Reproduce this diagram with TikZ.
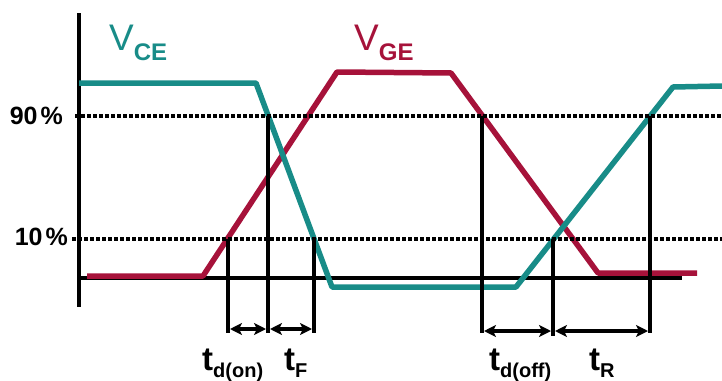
\documentclass[tikz,border=0pt]{standalone}
\usepackage{fontspec}
\setmainfont{Liberation Sans}
\usetikzlibrary{arrows.meta}
\definecolor{vcecolor}{RGB}{24,140,136}
\definecolor{vgecolor}{RGB}{166,18,58}
\newcommand{\tname}[1]{\textbf{t}\raisebox{-7pt}{\fontsize{20}{20}\selectfont\bfseries #1}}
\newcommand{\vname}[1]{V\raisebox{-10pt}{\fontsize{24}{24}\selectfont\bfseries #1}}

\begin{document}
\begin{tikzpicture}[x=1pt, y=-1pt,
        axis/.style={line width=4pt},
        level/.style={line width=3.5pt, dash pattern=on 3.5pt off 2.5pt},
        wave/.style={line width=5.5pt, line join=round},
        marker/.style={line width=4pt},
        span/.style={{Stealth[length=12pt, width=12pt, inset=3pt]}-{Stealth[length=12pt, width=12pt, inset=3pt]}, line width=3.5pt},
        pct/.style={font=\fontsize{25}{25}\selectfont\bfseries, anchor=base east, inner sep=0pt},
        tlabel/.style={font=\fontsize{33}{33}\selectfont, anchor=base west, inner sep=0pt},
        vlabel/.style={font=\fontsize{37}{37}\selectfont, anchor=base west, inner sep=0pt}
    ]
        \useasboundingbox (0,0) rectangle (722,380);
        \coordinate (ytop) at (79,13);
        \coordinate (ybot) at (79,307);
        \coordinate (orig) at (79,278);
        \coordinate (xend) at (682,278);
        \coordinate (hi0) at (75,116);
        \coordinate (hi1) at (722,116);
        \coordinate (lo0) at (72,239);
        \coordinate (lo1) at (722,239);
        \draw[axis] (ytop) -- (ybot);
        \draw[axis] (orig) -- (xend);
        \draw[wave, vgecolor] (87,276) -- (203,276) -- (337,72) -- (451,73) -- (598,273) -- (697,273);
        \draw[wave, vcecolor] (79,83) -- (256,83) -- (332,287) -- (516,287) -- (673,87) -- (722,86);
        \draw[level] (hi0) -- (hi1);
        \draw[level] (lo0) -- (lo1);
        \node[pct] (p90) at (63,124) {90\kern3pt\%};
        \node[pct] (p10) at (68,245) {10\kern3pt\%};
        \node[vlabel, text=vcecolor] (vce) at (109,50) {\vname{CE}};
        \node[vlabel, text=vgecolor] (vge) at (354,50) {\vname{GE}};
        \coordinate (m1a) at (228,239);  \coordinate (m1b) at (228,333);
        \coordinate (m2a) at (268,116);  \coordinate (m2b) at (268,333);
        \coordinate (m3a) at (314,239);  \coordinate (m3b) at (314,333);
        \coordinate (m4a) at (482,116);  \coordinate (m4b) at (482,333);
        \coordinate (m5a) at (553,239);  \coordinate (m5b) at (553,336);
        \coordinate (m6a) at (650,116);  \coordinate (m6b) at (650,333);
        \draw[marker] (m1a) -- (m1b);
        \draw[marker] (m2a) -- (m2b);
        \draw[marker] (m3a) -- (m3b);
        \draw[marker] (m4a) -- (m4b);
        \draw[marker] (m5a) -- (m5b);
        \draw[marker] (m6a) -- (m6b);
        \coordinate (s1) at (230,329);  \coordinate (s2) at (266,329);
        \coordinate (s3) at (270,329);  \coordinate (s4) at (312,329);
        \coordinate (s5) at (484,331);  \coordinate (s6) at (551,331);
        \coordinate (s7) at (555,331);  \coordinate (s8) at (648,331);
        \draw[span] (s1) -- (s2);
        \draw[span] (s3) -- (s4);
        \draw[span] (s5) -- (s6);
        \draw[span] (s7) -- (s8);
        \node[tlabel] (tdon) at (202,370) {\tname{d(on)}};
        \node[tlabel] (tf) at (284,370) {\tname{F}};
        \node[tlabel] (tdoff) at (489,370) {\tname{d(off)}};
        \node[tlabel] (tr) at (589,370) {\tname{R}};
    \end{tikzpicture}
\end{document}
